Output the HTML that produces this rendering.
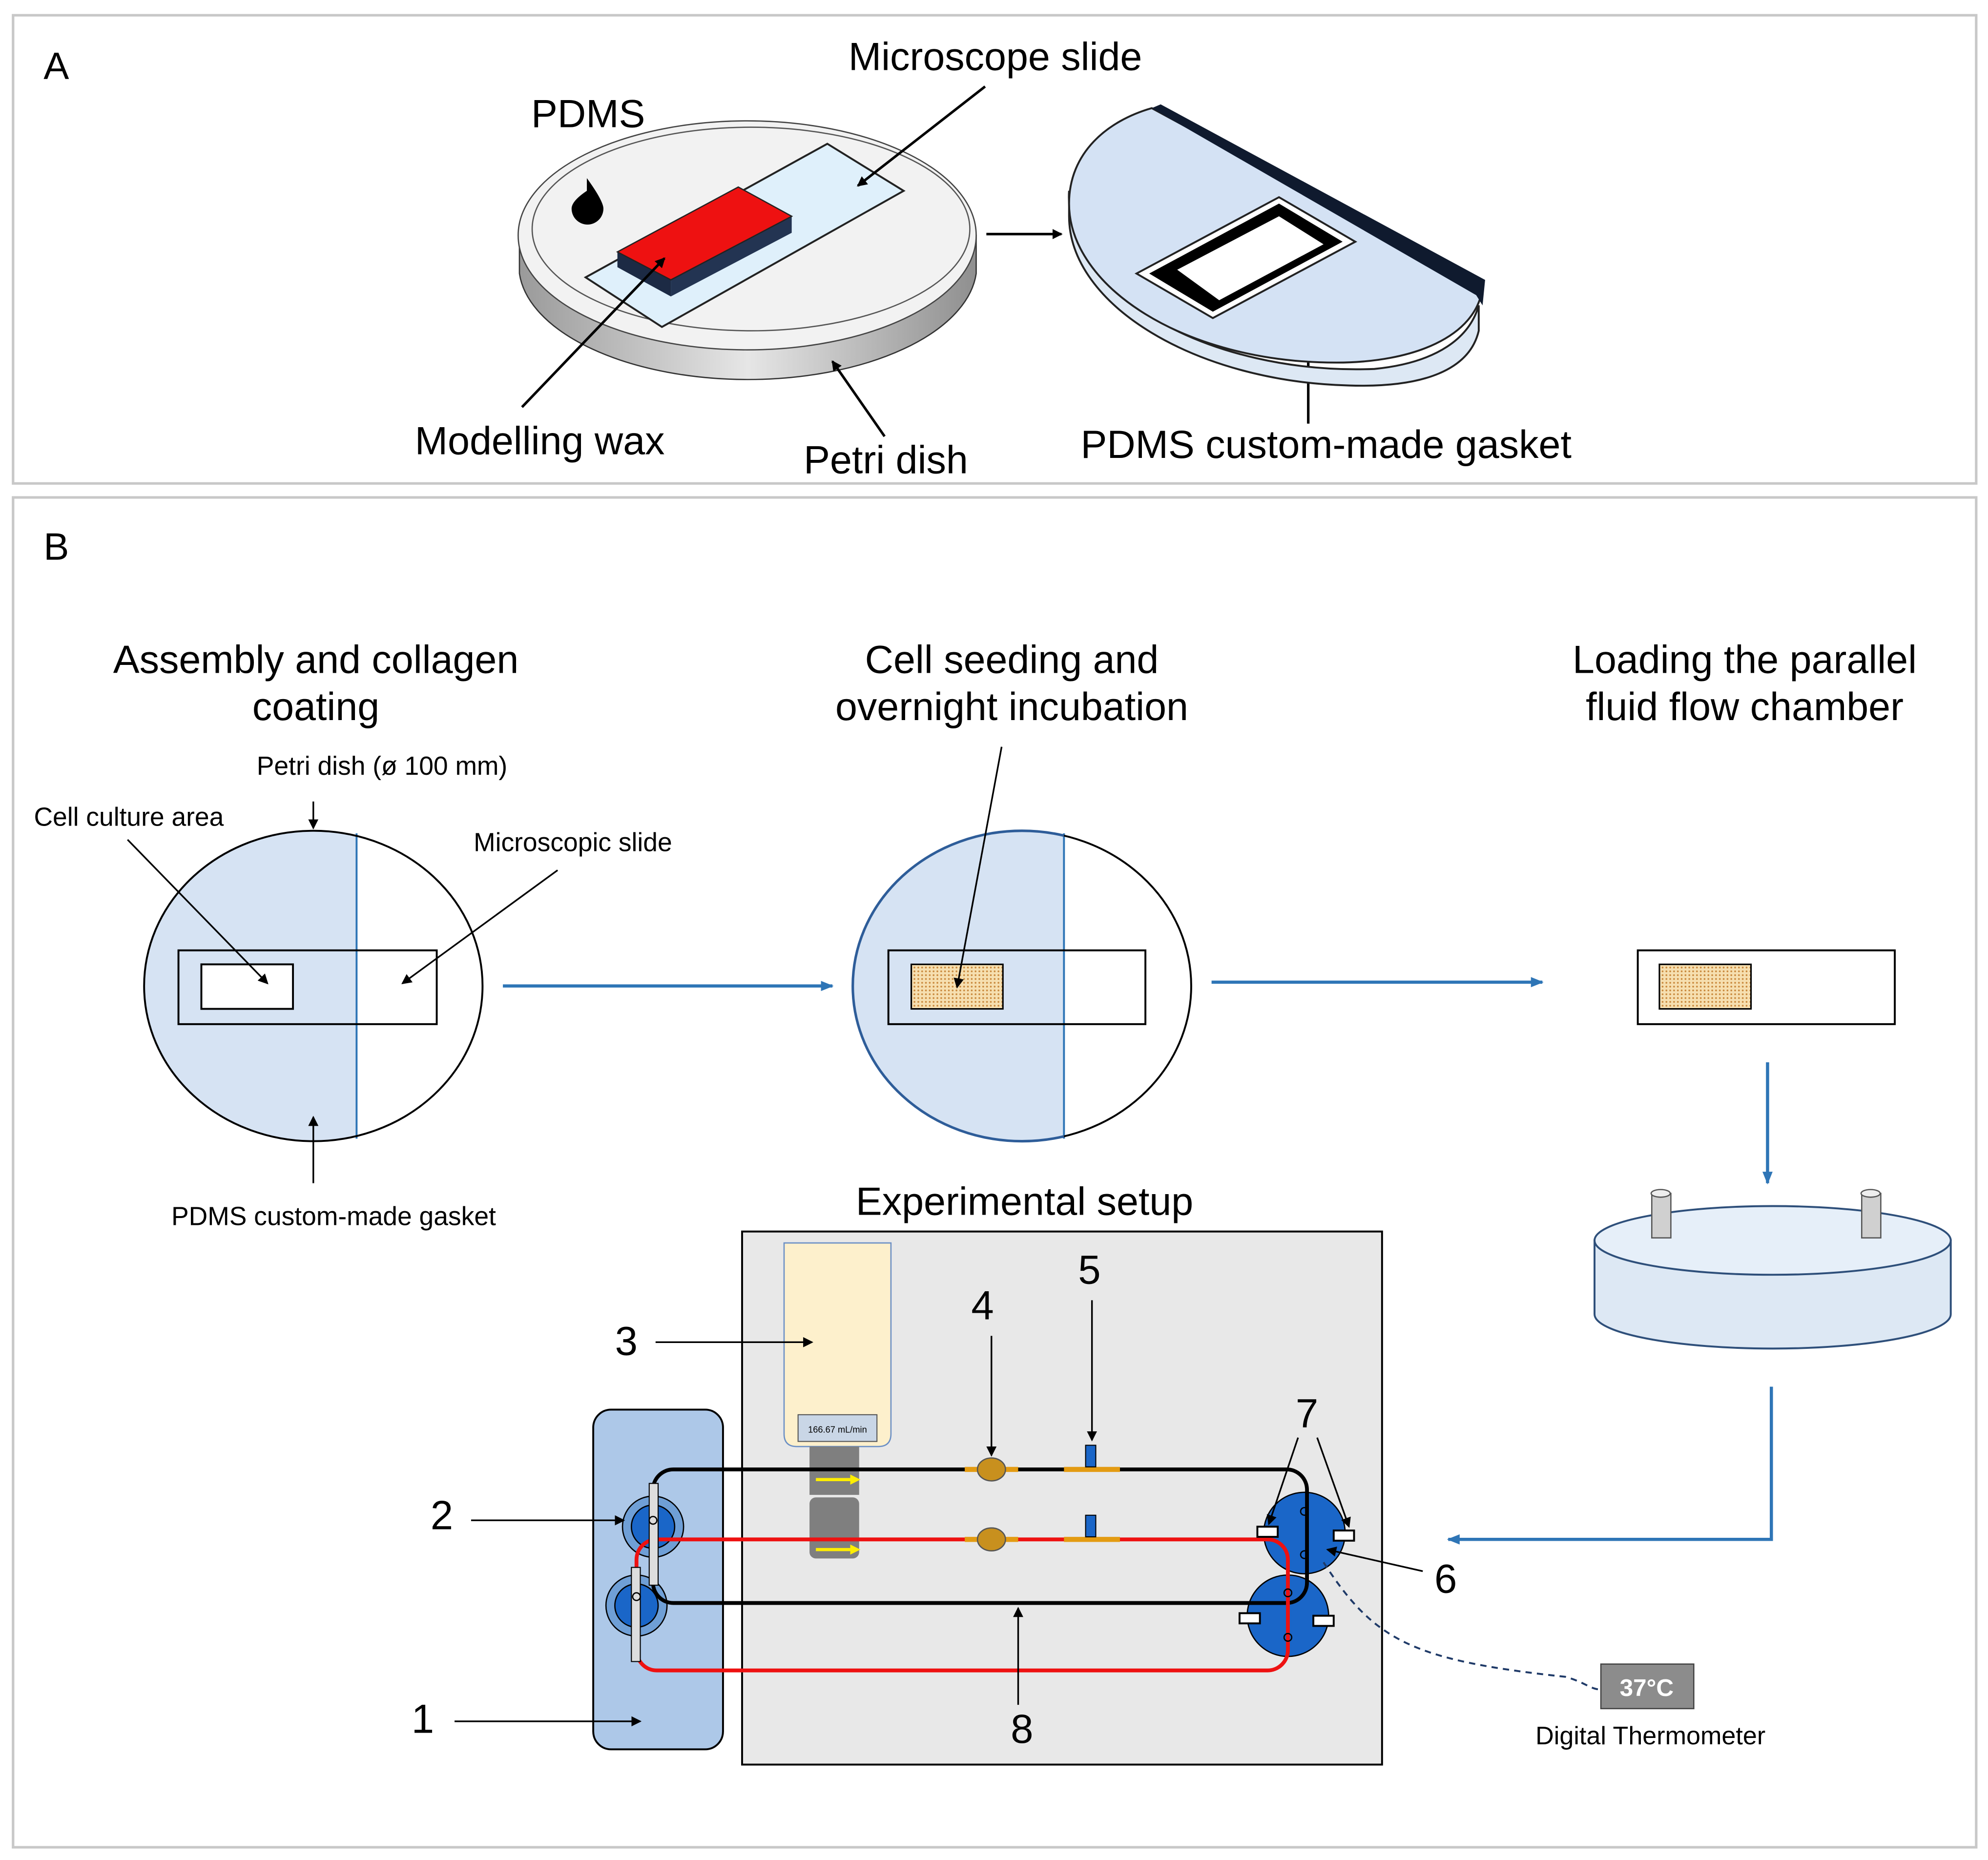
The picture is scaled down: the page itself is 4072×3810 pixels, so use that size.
<!DOCTYPE html>
<html><head><meta charset="utf-8"><style>
html,body{margin:0;padding:0;background:#fff}
svg{display:block}
text{font-family:"Liberation Sans",Arial,sans-serif;fill:#000}
</style></head><body>
<svg width="4072" height="3810" viewBox="0 0 1562 1462" xmlns="http://www.w3.org/2000/svg">
<defs>
<marker id="ah" markerWidth="8" markerHeight="8" refX="7" refY="4" orient="auto" markerUnits="userSpaceOnUse"><path d="M0,0 L8,4 L0,8 z" fill="#000"/></marker>
<marker id="bh" markerWidth="10" markerHeight="10" refX="9" refY="5" orient="auto" markerUnits="userSpaceOnUse"><path d="M0,1 L10,5 L0,9 z" fill="#2e75b6"/></marker>
<pattern id="dots" width="3" height="3" patternUnits="userSpaceOnUse"><rect width="3" height="3" fill="#f6dfb0"/><circle cx="1.5" cy="1.5" r="0.7" fill="#c8873a"/></pattern>
<linearGradient id="side" x1="0" x2="1"><stop offset="0" stop-color="#9a9a9a"/><stop offset="0.5" stop-color="#e6e6e6"/><stop offset="1" stop-color="#8f8f8f"/></linearGradient>
<clipPath id="lc2"><rect x="660" y="640" width="176" height="270"/></clipPath>
</defs>
<rect x="10" y="12" width="1543" height="368" fill="#fff" stroke="#c8c8c8" stroke-width="2"/>
<rect x="10" y="391" width="1543" height="1061" fill="#fff" stroke="#c8c8c8" stroke-width="2"/>
<text x="34" y="62" font-size="30">A</text>
<text x="34" y="440" font-size="30">B</text>

<!-- Petri dish A -->
<path d="M408,185 L408,215 A180,90 0 0 0 767,215 L767,185 Z" fill="url(#side)" stroke="#333" stroke-width="1"/>
<ellipse cx="587" cy="185" rx="180" ry="90" fill="#f2f2f2" stroke="#444" stroke-width="1"/>
<ellipse cx="590" cy="180" rx="172" ry="80" fill="none" stroke="#555" stroke-width="1"/>
<path d="M461,150 q-12,8 -12,14 a12,12 0 0 0 25,0 q0,-6 -13,-24 z" fill="#000"/>
<polygon points="460,218 650,113 710,150 520,257" fill="#dff0fb" stroke="#222" stroke-width="1.5"/>
<polygon points="485,198 485,210 527,233 527,220" fill="#1c2a44"/>
<polygon points="527,220 622,170 622,183 527,233" fill="#233452"/>
<polygon points="485,198 580,147 622,170 527,220" fill="#ee1111" stroke="#222" stroke-width="1"/>
<g font-size="31" text-anchor="middle">
<text x="462" y="100">PDMS</text>
<text x="782" y="55">Microscope slide</text>
<text x="424" y="357">Modelling wax</text>
<text x="696" y="372">Petri dish</text>
<text x="1042" y="360">PDMS custom-made gasket</text>
</g>
<g stroke="#000" stroke-width="2" fill="none">
<line x1="774" y1="68" x2="674" y2="146" marker-end="url(#ah)"/>
<line x1="410" y1="320" x2="522" y2="203" marker-end="url(#ah)"/>
<line x1="695" y1="343" x2="654" y2="284" marker-end="url(#ah)"/>
<line x1="1028" y1="333" x2="1028" y2="267" marker-end="url(#ah)"/>
<line x1="775" y1="184" x2="834" y2="184" marker-end="url(#ah)"/>
</g>

<!-- half gasket -->
<path d="M840,150 C835,230 950,295 1080,290 C1130,285 1155,265 1162,240 L1162,260 C1155,290 1120,305 1060,303 C940,300 840,240 840,170 Z" fill="#dde8f4" stroke="#222" stroke-width="1.5"/>
<path d="M905,85 L1165,226 C1160,265 1110,285 1050,285 C930,285 840,225 840,160 C840,120 870,95 905,85 Z" fill="#d4e2f4" stroke="#222" stroke-width="1.5"/>
<polygon points="905,85 912,82 1167,220 1165,240 1160,232" fill="#0f1a2e"/>
<polygon points="893,215 1005,155 1065,190 953,250" fill="#fff" stroke="#222" stroke-width="1.5"/>
<polygon points="903,215 1005,160 1055,190 953,245" fill="#000"/>
<polygon points="925,212 1005,170 1040,192 958,236" fill="#fff"/>

<!-- Panel B titles -->
<g font-size="31" text-anchor="middle">
<text x="248" y="529">Assembly and collagen</text><text x="248" y="566">coating</text>
<text x="795" y="529">Cell seeding and</text><text x="795" y="566">overnight incubation</text>
<text x="1371" y="529">Loading the parallel</text><text x="1371" y="566">fluid flow chamber</text>
<text x="805" y="955">Experimental setup</text>
</g>

<!-- circle 1 -->
<clipPath id="c1"><ellipse cx="246" cy="775" rx="133" ry="122"/></clipPath>
<ellipse cx="246" cy="775" rx="133" ry="122" fill="#fff"/>
<rect x="100" y="640" width="180" height="270" fill="#d6e3f3" clip-path="url(#c1)"/>
<line x1="280" y1="655" x2="280" y2="895" stroke="#2e75b6" stroke-width="1.5"/>
<ellipse cx="246" cy="775" rx="133" ry="122" fill="none" stroke="#000" stroke-width="1.5"/>
<rect x="140" y="747" width="203" height="58" fill="none" stroke="#000" stroke-width="1.5"/>
<rect x="158" y="758" width="72" height="35" fill="#fff" stroke="#000" stroke-width="1.5"/>
<g font-size="20.5" text-anchor="middle">
<text x="300" y="609">Petri dish (ø 100 mm)</text>
<text x="101" y="649">Cell culture area</text>
<text x="450" y="669">Microscopic slide</text>
<text x="262" y="963">PDMS custom-made gasket</text>
</g>

<!-- circle 2 -->
<clipPath id="c2"><ellipse cx="803" cy="775" rx="133" ry="122"/></clipPath>
<ellipse cx="803" cy="775" rx="133" ry="122" fill="#fff"/>
<rect x="660" y="640" width="176" height="270" fill="#d6e3f3" clip-path="url(#c2)"/>
<line x1="836" y1="655" x2="836" y2="895" stroke="#2e75b6" stroke-width="1.5"/>
<ellipse cx="803" cy="775" rx="133" ry="122" fill="none" stroke="#000" stroke-width="1.5"/>
<ellipse cx="803" cy="775" rx="133" ry="122" fill="none" stroke="#2e5d99" stroke-width="2" clip-path="url(#lc2)"/>
<rect x="698" y="747" width="202" height="58" fill="none" stroke="#000" stroke-width="1.5"/>
<rect x="716" y="758" width="72" height="35" fill="url(#dots)" stroke="#000" stroke-width="1.2"/>

<g stroke="#000" stroke-width="1.3" fill="none">
<line x1="246" y1="630" x2="246" y2="651" marker-end="url(#ah)"/>
<line x1="100" y1="660" x2="210" y2="773" marker-end="url(#ah)"/>
<line x1="438" y1="684" x2="316" y2="773" marker-end="url(#ah)"/>
<line x1="246" y1="930" x2="246" y2="878" marker-end="url(#ah)"/>
<line x1="787" y1="587" x2="752" y2="776" marker-end="url(#ah)"/>
</g>

<!-- slide 3 -->
<rect x="1287" y="747" width="202" height="58" fill="#fff" stroke="#000" stroke-width="1.5"/>
<rect x="1304" y="758" width="72" height="35" fill="url(#dots)" stroke="#000" stroke-width="1.2"/>

<g stroke="#2e75b6" stroke-width="2.5" fill="none">
<line x1="395" y1="775" x2="654" y2="775" marker-end="url(#bh)"/>
<line x1="952" y1="772" x2="1212" y2="772" marker-end="url(#bh)"/>
<line x1="1389" y1="835" x2="1389" y2="930" marker-end="url(#bh)"/>
<polyline points="1392,1090 1392,1210 1138,1210" marker-end="url(#bh)"/>
</g>

<!-- chamber -->
<path d="M1253,975 L1253,1033 A140,27 0 0 0 1533,1033 L1533,975 Z" fill="#dde8f4" stroke="#2e4f7a" stroke-width="1.5"/>
<ellipse cx="1393" cy="975" rx="140" ry="27" fill="#e6eff9" stroke="#2e4f7a" stroke-width="1.5"/>
<rect x="1298" y="938" width="15" height="35" fill="#d0d0d0" stroke="#555"/>
<ellipse cx="1305" cy="938" rx="7.5" ry="3" fill="#eee" stroke="#555"/>
<rect x="1463" y="938" width="15" height="35" fill="#d0d0d0" stroke="#555"/>
<ellipse cx="1470" cy="938" rx="7.5" ry="3" fill="#eee" stroke="#555"/>

<!-- experimental setup -->
<rect x="583" y="968" width="503" height="419" fill="#e8e8e8" stroke="#000" stroke-width="1.5"/>
<rect x="466" y="1108" width="102" height="267" rx="14" fill="#adc8e8" stroke="#000" stroke-width="1.5"/>
<path d="M616,977 L700,977 L700,1127 Q700,1137 690,1137 L626,1137 Q616,1137 616,1127 Z" fill="#fdf0cc" stroke="#6b8fc5" stroke-width="1"/>
<rect x="627" y="1112" width="62" height="21" fill="#c9d6e6" stroke="#555" stroke-width="0.8"/>
<text x="658" y="1126" font-size="7" text-anchor="middle" fill="#333">166.67 mL/min</text>
<rect x="636" y="1137" width="39" height="38" fill="#7f7f7f"/>
<rect x="636" y="1177" width="39" height="48" rx="5" fill="#7f7f7f"/>
<line x1="641" y1="1163" x2="670" y2="1163" stroke="#ffee00" stroke-width="2.5"/>
<path d="M668,1159 L676,1163 L668,1167z" fill="#ffee00"/>
<line x1="641" y1="1218" x2="670" y2="1218" stroke="#ffee00" stroke-width="2.5"/>
<path d="M668,1214 L676,1218 L668,1222z" fill="#ffee00"/>

<g fill="#1a66c8" stroke="#000" stroke-width="1">
<circle cx="513" cy="1200" r="24" fill="#6f9fd6"/><circle cx="513" cy="1200" r="17"/>
<circle cx="500" cy="1262" r="24" fill="#6f9fd6"/><circle cx="500" cy="1262" r="17"/>
<circle cx="1025" cy="1205" r="32"/>
<circle cx="1012" cy="1270" r="32"/>
</g>
<rect x="513" y="1155" width="514" height="105" rx="16" fill="none" stroke="#000" stroke-width="3"/>
<rect x="500" y="1210" width="512" height="103" rx="16" fill="none" stroke="#ee1111" stroke-width="3"/>
<rect x="510" y="1166" width="7" height="80" fill="#ddd" stroke="#000" stroke-width="0.8"/>
<rect x="496" y="1232" width="7" height="74" fill="#ddd" stroke="#000" stroke-width="0.8"/>
<circle cx="1025" cy="1188" r="3" fill="none" stroke="#000"/><circle cx="1025" cy="1222" r="3" fill="none" stroke="#000"/>
<circle cx="1012" cy="1252" r="3" fill="none" stroke="#000"/><circle cx="1012" cy="1287" r="3" fill="none" stroke="#000"/>
<circle cx="513" cy="1195" r="3" fill="none" stroke="#000"/><circle cx="500" cy="1255" r="3" fill="none" stroke="#000"/>
<g fill="#fff" stroke="#000" stroke-width="1.5">
<rect x="988" y="1200" width="16" height="8"/><rect x="1048" y="1203" width="16" height="8"/>
<rect x="974" y="1268" width="16" height="8"/><rect x="1032" y="1270" width="16" height="8"/>
</g>
<g>
<line x1="758" y1="1155" x2="800" y2="1155" stroke="#e39b12" stroke-width="4"/>
<ellipse cx="779" cy="1155" rx="11" ry="9" fill="#c8901e" stroke="#555"/>
<line x1="758" y1="1210" x2="800" y2="1210" stroke="#e39b12" stroke-width="4"/>
<ellipse cx="779" cy="1210" rx="11" ry="9" fill="#c8901e" stroke="#555"/>
<line x1="836" y1="1155" x2="880" y2="1155" stroke="#e39b12" stroke-width="4"/>
<rect x="853" y="1136" width="8" height="17" fill="#1a66c8" stroke="#000" stroke-width="0.8"/>
<line x1="836" y1="1210" x2="880" y2="1210" stroke="#e39b12" stroke-width="4"/>
<rect x="853" y="1191" width="8" height="17" fill="#1a66c8" stroke="#000" stroke-width="0.8"/>
</g>

<g font-size="32" text-anchor="middle">
<text x="332" y="1362">1</text><text x="347" y="1202">2</text><text x="492" y="1065">3</text>
<text x="772" y="1037">4</text><text x="856" y="1009">5</text><text x="1136" y="1252">6</text>
<text x="1027" y="1122">7</text><text x="803" y="1370">8</text>
</g>
<g stroke="#000" stroke-width="1.3" fill="none">
<line x1="357" y1="1353" x2="503" y2="1353" marker-end="url(#ah)"/>
<line x1="370" y1="1195" x2="490" y2="1195" marker-end="url(#ah)"/>
<line x1="515" y1="1055" x2="638" y2="1055" marker-end="url(#ah)"/>
<line x1="779" y1="1050" x2="779" y2="1144" marker-end="url(#ah)"/>
<line x1="858" y1="1022" x2="858" y2="1132" marker-end="url(#ah)"/>
<line x1="1118" y1="1235" x2="1043" y2="1218" marker-end="url(#ah)"/>
<line x1="1020" y1="1130" x2="997" y2="1198" marker-end="url(#ah)"/>
<line x1="1035" y1="1130" x2="1060" y2="1200" marker-end="url(#ah)"/>
<line x1="800" y1="1340" x2="800" y2="1264" marker-end="url(#ah)"/>
</g>

<path d="M1040,1228 C1080,1290 1110,1305 1230,1318 C1245,1322 1250,1328 1258,1328" fill="none" stroke="#1f3a68" stroke-width="1.5" stroke-dasharray="5,4"/>
<rect x="1258" y="1308" width="73" height="35" fill="#8c8c8c" stroke="#444"/>
<text x="1294" y="1333" font-size="19" font-weight="bold" text-anchor="middle" style="fill:#fff">37°C</text>
<text x="1297" y="1371" font-size="20" text-anchor="middle">Digital Thermometer</text>
</svg>
</body></html>
